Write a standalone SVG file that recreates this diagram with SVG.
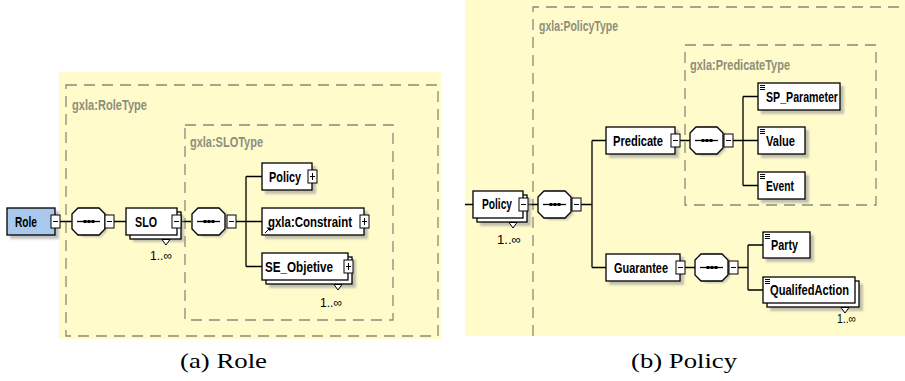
<svg xmlns="http://www.w3.org/2000/svg" width="905" height="381" viewBox="0 0 905 381">
<style>
.bg{fill:#fffbcb}
.dash{fill:none;stroke:#8a8a7a;stroke-width:1.3;stroke-dasharray:11,7}
.tl{font-family:"Liberation Sans",Arial,sans-serif;font-weight:bold;font-size:14px;fill:#8e8e7c}
.box{fill:#fff;stroke:#000;stroke-width:1.3}
.role{fill:#a9c8ec;stroke:#000;stroke-width:1.3}
.sh{fill:#9a9a9a;opacity:.6;filter:url(#blur)}
.lbl{font-family:"Liberation Sans",Arial,sans-serif;font-weight:bold;font-size:15.5px;fill:#000}
.mult{font-family:"Liberation Sans",Arial,sans-serif;font-size:12.5px;fill:#000}
.btn{fill:#fff;stroke:#000;stroke-width:1}
.bl{stroke:#000;stroke-width:1;fill:none}
.ln{stroke:#000;stroke-width:1.3;fill:none}
.cap{font-family:"Liberation Serif","Times New Roman",serif;font-size:21px;fill:#000}
</style>
<defs>
<filter id="blur" x="-20%" y="-20%" width="140%" height="140%"><feGaussianBlur stdDeviation="1.2"/></filter>
<g id="minus"><rect class="btn" x="0" y="0" width="9" height="13"/><line class="bl" x1="2" y1="6.5" x2="7" y2="6.5"/></g>
<g id="plus"><rect class="btn" x="0" y="0" width="9" height="13"/><line class="bl" x1="2" y1="6.5" x2="7" y2="6.5"/><line class="bl" x1="4.5" y1="3" x2="4.5" y2="10"/></g>
<g id="oct">
<polygon points="4,4 11,0 27,0 35,6 35,23 29,29 11,29 4,25" class="sh"/>
<polygon points="0,6 6,0 27,0 33,6 33,21 27,27 6,27 0,21" class="box"/>
<line class="ln" x1="5" y1="13.5" x2="28" y2="13.5"/>
<rect x="11.5" y="12" width="3" height="3"/><rect x="15.5" y="12" width="3" height="3"/><rect x="19.5" y="12" width="3" height="3"/>
</g>
<g id="eq"><line class="bl" x1="0" y1="0.5" x2="5" y2="0.5"/><line class="bl" x1="0" y1="2.5" x2="5" y2="2.5"/><line class="bl" x1="0" y1="4.5" x2="5" y2="4.5"/></g>
</defs>

<!-- panel backgrounds -->
<rect class="bg" x="59" y="72" width="382" height="267"/>
<rect class="bg" x="465" y="0" width="440" height="336"/>
<rect class="dash" x="66" y="85" width="372" height="251"/>
<text class="tl" x="72" y="110" textLength="75" lengthAdjust="spacingAndGlyphs">gxla:RoleType</text>
<rect class="dash" x="185" y="125" width="208" height="195"/>
<text class="tl" x="190" y="147" textLength="73" lengthAdjust="spacingAndGlyphs">gxla:SLOType</text>
<path class="dash" d="M533,336 V7 H905"/>
<text class="tl" x="539" y="31" textLength="79" lengthAdjust="spacingAndGlyphs">gxla:PolicyType</text>
<rect class="dash" x="685" y="45" width="191" height="160"/>
<text class="tl" x="690" y="70" textLength="100" lengthAdjust="spacingAndGlyphs">gxla:PredicateType</text>

<!-- connectors -->
<g id="connectors">
<path class="ln" d="M60,221.5 H72 M114,221.5 H126 M181,221.5 H191 M236,221.5 H262 M246,176.5 V266.5 M246,176.5 H262 M246,266.5 H262"/>
<path class="ln" d="M465,204.5 H473 M528,204.5 H538 M581,204.5 H592 M592,140.5 V267.5 M592,140.5 H606 M592,267.5 H606"/>
<path class="ln" d="M680,140.5 H690 M733,140.5 H758 M743,96.5 V185.5 M743,96.5 H758 M743,185.5 H758"/>
<path class="ln" d="M685,267.5 H695 M738,267.5 H748 M748,245 V290 M748,245 H763 M748,290 H763"/>
</g>

<!-- LEFT PANEL NODES -->
<g id="role">
<rect class="sh" x="10" y="211" width="49" height="28"/>
<rect class="role" x="7" y="208" width="48" height="27"/>
<text class="lbl" x="15" y="227" textLength="22" lengthAdjust="spacingAndGlyphs">Role</text>
<use href="#minus" x="51" y="215"/>
</g>
<g id="seq1"><use href="#oct" x="72" y="208"/><use href="#minus" x="105" y="215"/></g>
<g id="slo">
<rect class="sh" x="133" y="215" width="51" height="27"/>
<rect class="box" x="130" y="212" width="51" height="27"/>
<rect class="box" x="126" y="208" width="51" height="27"/>
<text class="lbl" x="135" y="227" textLength="22" lengthAdjust="spacingAndGlyphs">SLO</text>
<use href="#minus" x="172" y="215"/>
<polygon class="btn" points="162,239.5 170,239.5 166,245"/>
<text class="mult" x="150" y="260" textLength="22" lengthAdjust="spacingAndGlyphs">1..∞</text>
</g>
<g id="seq2"><use href="#oct" x="192" y="208"/><use href="#minus" x="227" y="215"/></g>
<g id="policy-a">
<rect class="sh" x="265" y="166" width="51" height="28"/>
<rect class="box" x="262" y="163" width="50" height="27"/>
<text class="lbl" x="269" y="182" textLength="32" lengthAdjust="spacingAndGlyphs">Policy</text>
<use href="#plus" x="308" y="170"/>
</g>
<g id="constraint">
<rect class="sh" x="265" y="211" width="103" height="28"/>
<rect class="box" x="262" y="208" width="102" height="27"/>
<text class="lbl" x="268" y="227" textLength="84" lengthAdjust="spacingAndGlyphs">gxla:Constraint</text>
<use href="#plus" x="360" y="215"/>
<path d="M265,233 L269,229" class="bl"/><polygon points="270.5,227.5 270.5,231.5 266.5,227.5" fill="#000"/>
</g>
<g id="se-objetive">
<rect class="sh" x="269" y="260" width="87" height="28"/>
<rect class="box" x="266" y="257" width="86" height="27"/>
<rect class="box" x="262" y="253" width="86" height="27"/>
<text class="lbl" x="265" y="272" textLength="68" lengthAdjust="spacingAndGlyphs">SE_Objetive</text>
<use href="#plus" x="344" y="260"/>
<polygon class="btn" points="334,284.5 342,284.5 338,290"/>
<text class="mult" x="320" y="307" textLength="22" lengthAdjust="spacingAndGlyphs">1..∞</text>
</g>

<!-- RIGHT PANEL NODES -->
<g id="policy-b">
<rect class="sh" x="480" y="198" width="51" height="28"/>
<rect class="box" x="477" y="195" width="50" height="27"/>
<rect class="box" x="473" y="191" width="50" height="27"/>
<text class="lbl" x="482" y="209" textLength="30" lengthAdjust="spacingAndGlyphs">Policy</text>
<use href="#minus" x="519" y="198"/>
<polygon class="btn" points="509,222.5 517,222.5 513,228"/>
<text class="mult" x="497" y="244" textLength="24" lengthAdjust="spacingAndGlyphs">1..∞</text>
</g>
<g id="seq3"><use href="#oct" x="538" y="191"/><use href="#minus" x="572" y="198"/></g>
<g id="predicate">
<rect class="sh" x="609" y="130" width="70" height="28"/>
<rect class="box" x="606" y="127" width="69" height="27"/>
<text class="lbl" x="613" y="146" textLength="50" lengthAdjust="spacingAndGlyphs">Predicate</text>
<use href="#minus" x="671" y="134"/>
</g>
<g id="seq4"><use href="#oct" x="690" y="127"/><use href="#minus" x="724" y="134"/></g>
<g id="sp-parameter">
<rect class="sh" x="761" y="86" width="83" height="28"/>
<rect class="box" x="758" y="83" width="82" height="27"/>
<use href="#eq" x="760" y="85"/>
<text class="lbl" x="766" y="102" textLength="72" lengthAdjust="spacingAndGlyphs">SP_Parameter</text>
</g>
<g id="value">
<rect class="sh" x="761" y="130" width="48" height="28"/>
<rect class="box" x="758" y="127" width="47" height="27"/>
<use href="#eq" x="760" y="129"/>
<text class="lbl" x="766" y="146" textLength="29" lengthAdjust="spacingAndGlyphs">Value</text>
</g>
<g id="event">
<rect class="sh" x="761" y="175" width="48" height="28"/>
<rect class="box" x="758" y="172" width="47" height="27"/>
<use href="#eq" x="760" y="174"/>
<text class="lbl" x="766" y="191" textLength="28" lengthAdjust="spacingAndGlyphs">Event</text>
</g>
<g id="guarantee">
<rect class="sh" x="609" y="257" width="75" height="28"/>
<rect class="box" x="606" y="254" width="74" height="27"/>
<text class="lbl" x="614" y="273" textLength="54" lengthAdjust="spacingAndGlyphs">Guarantee</text>
<use href="#minus" x="676" y="261"/>
</g>
<g id="seq5"><use href="#oct" x="695" y="254"/><use href="#minus" x="729" y="261"/></g>
<g id="party">
<rect class="sh" x="766" y="235" width="48" height="27"/>
<rect class="box" x="763" y="232" width="47" height="26"/>
<use href="#eq" x="765" y="234"/>
<text class="lbl" x="771" y="250" textLength="27" lengthAdjust="spacingAndGlyphs">Party</text>
</g>
<g id="qualifedaction">
<rect class="sh" x="770" y="284" width="93" height="27"/>
<rect class="box" x="767" y="281" width="92" height="26"/>
<rect class="box" x="763" y="277" width="92" height="26"/>
<use href="#eq" x="765" y="279"/>
<text class="lbl" x="770" y="295" textLength="79" lengthAdjust="spacingAndGlyphs">QualifedAction</text>
<polygon class="btn" points="841,307.5 849,307.5 845,313"/>
<text class="mult" x="837" y="323" textLength="19" lengthAdjust="spacingAndGlyphs">1..∞</text>
</g>

<!-- captions -->
<text class="cap" x="180" y="368" textLength="87" lengthAdjust="spacingAndGlyphs">(a) Role</text>
<text class="cap" x="631" y="368" textLength="106" lengthAdjust="spacingAndGlyphs">(b) Policy</text>
</svg>
